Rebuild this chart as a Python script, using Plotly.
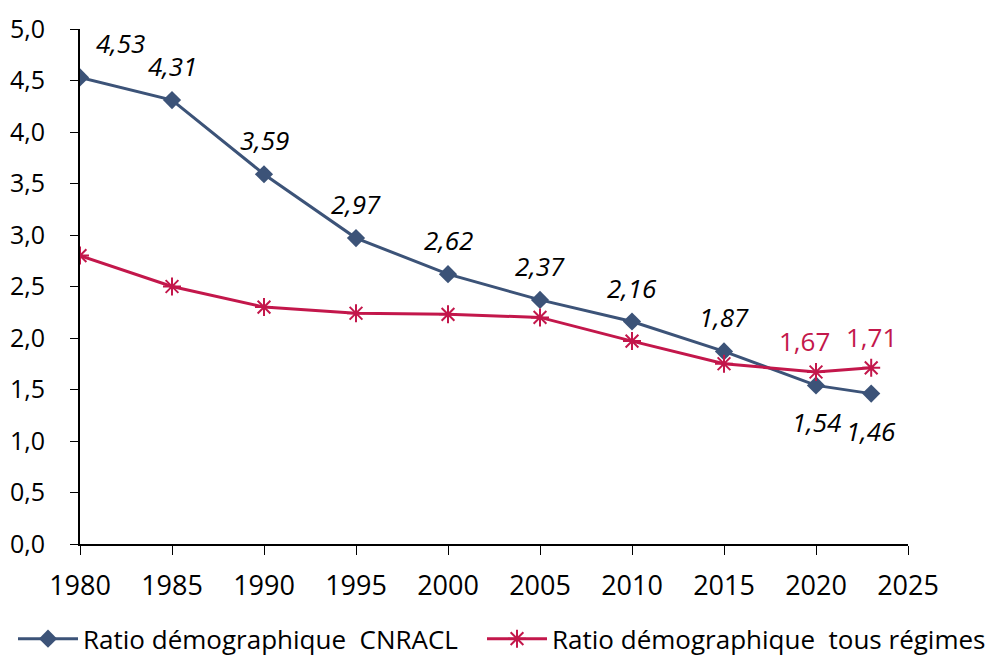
"""Ratio démographique CNRACL vs tous régimes."""

import plotly.graph_objects as go

years = [1980, 1985, 1990, 1995, 2000, 2005, 2010, 2015, 2020, 2023]
cnracl = [4.53, 4.31, 3.59, 2.97, 2.62, 2.37, 2.16, 1.87, 1.54, 1.46]
tous_regimes = [2.80, 2.50, 2.30, 2.24, 2.23, 2.20, 1.97, 1.75, 1.67, 1.71]

# which points get a printed value
cnracl_labelled = years
tous_labelled = [2020, 2023]

BLUE = "#3C5378"
RED = "#C3174B"
FONT = "Open Sans, Noto Sans, sans-serif"


def fr(v):
    return f"{v:.2f}".replace(".", ",")


fig = go.Figure()
fig.add_trace(
    go.Scatter(
        x=years,
        y=cnracl,
        mode="lines+markers",
        name="Ratio démographique  CNRACL",
        line=dict(color=BLUE, width=3),
        marker=dict(symbol="diamond", size=14, color=BLUE),
        legend="legend",
    )
)
fig.add_trace(
    go.Scatter(
        x=years,
        y=tous_regimes,
        mode="lines+markers",
        name="Ratio démographique  tous régimes",
        line=dict(color=RED, width=3),
        marker=dict(symbol="asterisk-open", size=15, line=dict(color=RED, width=2)),
        legend="legend2",
    )
)

for yr, v in zip(years, cnracl):
    if yr not in cnracl_labelled:
        continue
    below = yr >= 2020
    fig.add_annotation(
        x=yr,
        y=v,
        text=f"<i>{fr(v)}</i>",
        showarrow=False,
        font=dict(family=FONT, size=26, color="black"),
        yshift=-37 if below else 34,
        xshift=40 if yr == 1980 else 0,
    )

for yr, v in zip(years, tous_regimes):
    if yr not in tous_labelled:
        continue
    fig.add_annotation(
        x=yr,
        y=v,
        text=fr(v),
        showarrow=False,
        font=dict(family=FONT, size=26, color=RED),
        yshift=31,
        xshift=-12 if yr == 2020 else 0,
    )

legend_style = dict(
    orientation="h",
    xanchor="left",
    xref="container",
    y=0.037,
    yanchor="middle",
    yref="container",
    font=dict(size=26),
    itemwidth=60,
    bgcolor="rgba(0,0,0,0)",
)

# page body adds ~8px offset, so margins are trimmed to compensate
fig.update_layout(
    width=996,
    height=655,
    margin=dict(l=72, r=96, t=21, b=119),
    plot_bgcolor="white",
    paper_bgcolor="white",
    font=dict(family=FONT, size=24, color="black"),
    showlegend=True,
    legend=dict(x=5 / 996, **legend_style),
    legend2=dict(x=474 / 996, **legend_style),
)
fig.update_xaxes(
    range=[1980, 2025],
    tickvals=list(range(1980, 2026, 5)),
    tickfont=dict(size=27),
    showline=True,
    linecolor="black",
    linewidth=2,
    ticks="outside",
    ticklen=9,
    tickcolor="black",
    ticklabelstandoff=8,
    showgrid=False,
    zeroline=False,
    automargin=False,
)
fig.update_yaxes(
    range=[0, 5],
    tickvals=[i * 0.5 for i in range(11)],
    ticktext=[f"{i * 0.5:.1f}".replace(".", ",") for i in range(11)],
    tickfont=dict(size=25),
    showline=True,
    linecolor="black",
    linewidth=2,
    ticks="outside",
    ticklen=8,
    tickcolor="black",
    ticklabelstandoff=20,
    showgrid=False,
    zeroline=False,
    automargin=False,
)

fig.write_html("out.html")
